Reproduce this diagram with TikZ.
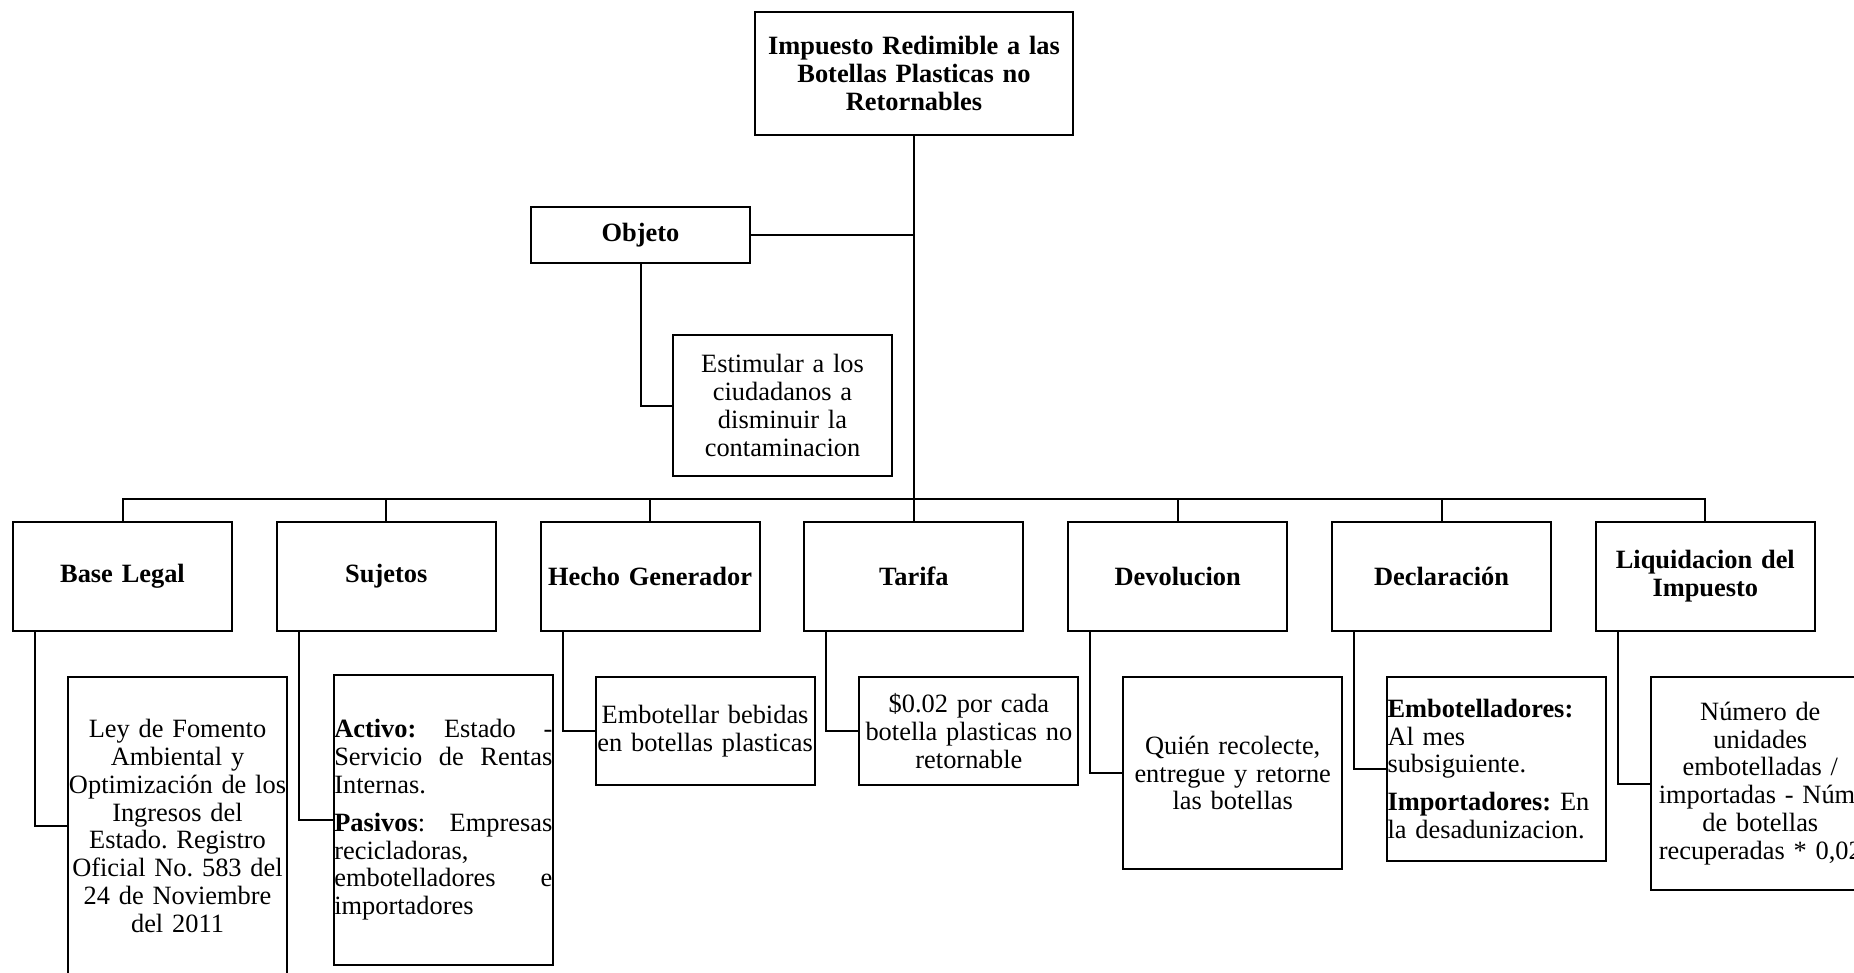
\documentclass[tikz,border=0pt]{standalone}
\usepackage{fontspec}
\setmainfont{Liberation Serif}
\usepackage{tikz}
\usetikzlibrary{positioning}
\tikzstyle{line} = [line width=2pt]
\tikzstyle{trunk} = [line width=2.7pt]
\tikzstyle{titulo} = [draw, rectangle, line width=2pt, outer sep=0pt, text width=306pt, inner xsep=6pt, align=center, minimum height=123pt, font=\bfseries]
\tikzstyle{head} = [draw, rectangle, line width=2pt, outer sep=0pt, text width=216pt, inner xsep=1.5pt, align=center, minimum height=109pt, font=\bfseries, node distance=263.8pt]
\tikzstyle{block} = [draw, rectangle, line width=2pt, outer sep=0pt, text width=218pt, inner xsep=0.5pt, align=center]

\begin{document}
\frenchspacing
\fontsize{26.4pt}{27.8pt}\selectfont
\begin{tikzpicture}[x=1pt, y=1pt]
        \useasboundingbox (0,0) rectangle (1854,-973);
        \clip (0,0) rectangle (1854,-973);
        \node[titulo](Impuesto) at (914,-73.5){Impuesto Redimible a las\\Botellas Plasticas no\\Retornables};
        \coordinate (bus) at (914,-499);
        \node[head, minimum height=56pt](Objeto) at (640.5,-235){Objeto};
        \node[block, minimum height=141pt, below=72pt of Objeto, xshift=142pt](Estimular){Estimular a los\\ciudadanos a\\disminuir la\\contaminacion};
        % segundo nivel
        \node[head](BaseLegal) at (122.5,-576.5){Base Legal};
        \node[head, right of=BaseLegal](Sujetos){Sujetos};
        \node[head, right of=Sujetos](Hecho){Hecho Generador};
        \node[head, right of=Hecho](Tarifa){Tarifa};
        \node[head, right of=Tarifa](Devolucion){Devolucion};
        \node[head, right of=Devolucion](Declaracion){Declaración};
        \node[head, right of=Declaracion](Liquidacion){Liquidacion del\\Impuesto};
        % tercer nivel
        \node[block, minimum height=298pt, below=46pt of BaseLegal, xshift=55pt](Ley){Ley de Fomento\\Ambiental y\\Optimización~de~los\\Ingresos del\\Estado. Registro\\Oficial No. 583 del\\24 de Noviembre\\del 2011};
        \node[block, align=justify, minimum height=290pt, below=44pt of Sujetos, xshift=57pt](Activo){\textbf{Activo:} Estado -\linebreak Servicio de Rentas\linebreak Internas.\par\vspace{10pt}\textbf{Pasivos}: Empresas\linebreak recicladoras,\newline embotelladores e\linebreak importadores};
        \node[block, minimum height=108pt, below=46pt of Hecho, xshift=55pt](Embotellar){Embotellar bebidas\\en botellas plasticas};
        \node[block, minimum height=108pt, below=46pt of Tarifa, xshift=55pt](Cada){\$0.02 por cada\\botella plasticas no\\retornable};
        \node[block, minimum height=192pt, below=46pt of Devolucion, xshift=55pt](Quien){Quién recolecte,\\entregue y retorne\\las botellas};
        \node[block, align=left, minimum height=184pt, below=46pt of Declaracion, xshift=55pt](Embotelladores){\textbf{Embotelladores:}\\Al mes\\subsiguiente.\\[10pt]\textbf{Importadores:} En\\la desadunizacion.};
        \node[block, minimum height=213pt, below=46pt of Liquidacion, xshift=55pt](Numero){Número de\\unidades\\embotelladas /\\importadas - Núm.\\de botellas\\recuperadas * 0,02};
        % conectores
        \draw[trunk](Impuesto.south) -- (bus);
        \draw[line](Objeto.east) -- (Objeto.east -| Impuesto.south);
        \draw[line](Objeto.south) |- (Estimular.west);
        \draw[line](BaseLegal.north) -- (BaseLegal.north |- bus) -- (Liquidacion.north |- bus) -- (Liquidacion.north);
        \foreach \n in {Sujetos, Hecho, Tarifa, Devolucion, Declaracion}
            \draw[line](\n.north) -- (\n.north |- bus);
        \foreach \p/\c in {BaseLegal/Ley, Sujetos/Activo, Hecho/Embotellar, Tarifa/Cada, Devolucion/Quien, Declaracion/Embotelladores, Liquidacion/Numero}
            \draw[line]([xshift=22pt]\p.south west) |- (\c.west);
\end{tikzpicture}
\end{document}
